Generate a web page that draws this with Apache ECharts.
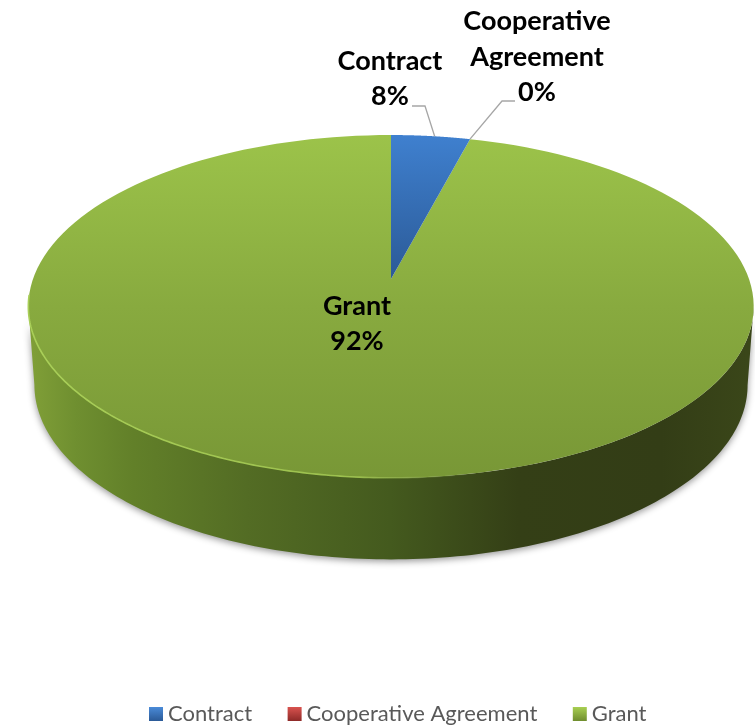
<!DOCTYPE html>
<html><head><meta charset="utf-8">
<style>html,body{margin:0;padding:0;background:#fff}#c{width:755px;height:725px}</style>
<script src="https://cdn.jsdelivr.net/npm/echarts@6/dist/echarts.min.js"></script>
</head><body><div id="c"></div>
<script>
var categories = ['Contract', 'Cooperative Agreement', 'Grant'];
var sliceShares = [4.1, 0, 95.9];
var shownPercents = ['8%', '0%', '92%'];

var top3d = {cx: 391, cy: 279, a: 358, b: 167, k: 0.16};
var low3d = {cx: 391, cy: 357, a: 352, b: 170, k: 0.16};
var labelAt = [[390, 79], [537, 57], [357, 324]];
var elbows = [[[412, 106], [425, 106]], [[515, 101], [502, 101]], null];

function project(p, t) {
  var X = Math.sin(t), Y = Math.cos(t), d = 1 + p.k * Y;
  return [p.cx + p.a * X / d, p.cy - p.b * Y / d];
}
function arc(p, t0, t1, n) {
  var pts = [];
  for (var i = 0; i <= n; i++) pts.push(project(p, t0 + (t1 - t0) * i / n));
  return pts;
}
function vGrad(y0, y1, stops) {
  return {type: 'linear', x: 0, y: y0, x2: 0, y2: y1, global: true,
    colorStops: stops.map(function (s) { return {offset: s[0], color: s[1]}; })};
}
function hGrad(x0, x1, stops) {
  return {type: 'linear', x: x0, y: 0, x2: x1, y2: 0, global: true,
    colorStops: stops.map(function (s) { return {offset: s[0], color: s[1]}; })};
}
var fills = [
  vGrad(135, 279, [[0, '#3f80cf'], [1, '#2b5a97']]),
  vGrad(135, 279, [[0, '#d04a47'], [1, '#8e2a28']]),
  vGrad(135, 480, [[0, '#9cc34a'], [0.5, '#88aa3f'], [1, '#789736']])
];
var legendFills = [
  vGrad(0, 1, [[0, '#4a8bd8'], [1, '#2b5a97']]),
  vGrad(0, 1, [[0, '#d9534f'], [1, '#8e2a28']]),
  vGrad(0, 1, [[0, '#a8cf52'], [1, '#6f8d2e']])
];
function legendFill(i) {
  return {type: 'linear', x: 0, y: 0, x2: 0, y2: 1, colorStops: legendFills[i].colorStops};
}
var total = sliceShares.reduce(function (a, b) { return a + b; }, 0);
function startAngle(i) {
  var s = 0;
  for (var j = 0; j < i; j++) s += sliceShares[j];
  return s / total * Math.PI * 2;
}
function wall() {
  var tExt = Math.PI - Math.asin(Math.sqrt(1 - top3d.k * top3d.k));
  var front = arc(top3d, tExt, Math.PI * 2 - tExt, 160);
  var back = arc(low3d, Math.PI * 2 - tExt, tExt, 160);
  return front.concat(back);
}
function makeSeries(i) {
  return {
    type: 'custom', name: categories[i], coordinateSystem: 'none', z: i === 2 ? 2 : 3,
    silent: true, animation: false, clip: false,
    itemStyle: {color: legendFill(i)},
    data: [[sliceShares[i]]],
    renderItem: function (params, api) {
      var sweep = api.value(0) / total * Math.PI * 2, a0 = startAngle(i), kids = [];
      if (i === 2) {
        kids.push({type: 'polygon', shape: {points: wall()},
          style: {fill: hGrad(33, 747, [[0, '#7f9e37'], [0.06, '#6f8f30'], [0.14, '#628029'], [0.3, '#536c24'],
            [0.5, '#445a1e'], [0.68, '#343f16'], [0.88, '#333d16'], [1, '#3a4619']]),
            shadowBlur: 7, shadowColor: 'rgba(60,60,60,0.55)', shadowOffsetY: 2}});
      }
      if (sweep > 0) {
        var pts = [[top3d.cx, top3d.cy]].concat(arc(top3d, a0, a0 + sweep, 160));
        kids.push({type: 'polygon', shape: {points: pts}, style: {fill: fills[i]}});
      }
      if (i === 2) {
        kids.push({type: 'polyline', shape: {points: arc(top3d, Math.PI * 0.75, Math.PI * 1.47, 200)},
          style: {fill: 'none', lineWidth: 1.6, stroke: hGrad(28, 755, [[0, '#a9cf58'], [0.45, '#9cc04e'], [0.62, 'rgba(120,150,54,0)'], [1, 'rgba(110,140,50,0)']])}});
      }
      if (elbows[i]) {
        var edge = project(top3d, a0 + sweep / 2 * (i === 0 ? 1.1 : 1));
        kids.push({type: 'polyline', shape: {points: elbows[i].concat([edge])},
          style: {fill: 'none', stroke: '#a6a6a6', lineWidth: 1.3}});
      }
      kids.push({type: 'text', x: labelAt[i][0], y: labelAt[i][1], z2: 20,
        style: {text: categories[i].replace(' ', '\n') + '\n' + shownPercents[i],
          fill: '#000', font: 'bold 27px Lato', lineHeight: 35.5, align: 'center', verticalAlign: 'middle'}});
      return {type: 'group', children: kids};
    }
  };
}
var chart = echarts.init(document.getElementById('c'));
chart.setOption({
  animation: false,
  backgroundColor: '#fff',
  legend: {
    left: 149, top: 703, padding: 0, itemWidth: 14, itemHeight: 14, itemGap: 35.5, icon: 'rect',
    selectedMode: false,
    textStyle: {color: '#595959', fontFamily: 'Lato', fontSize: 22},
    data: categories.map(function (c, i) { return {name: c, itemStyle: {color: legendFill(i)}}; })
  },
  series: categories.map(function (c, i) { return makeSeries(i); })
});
</script></body></html>
